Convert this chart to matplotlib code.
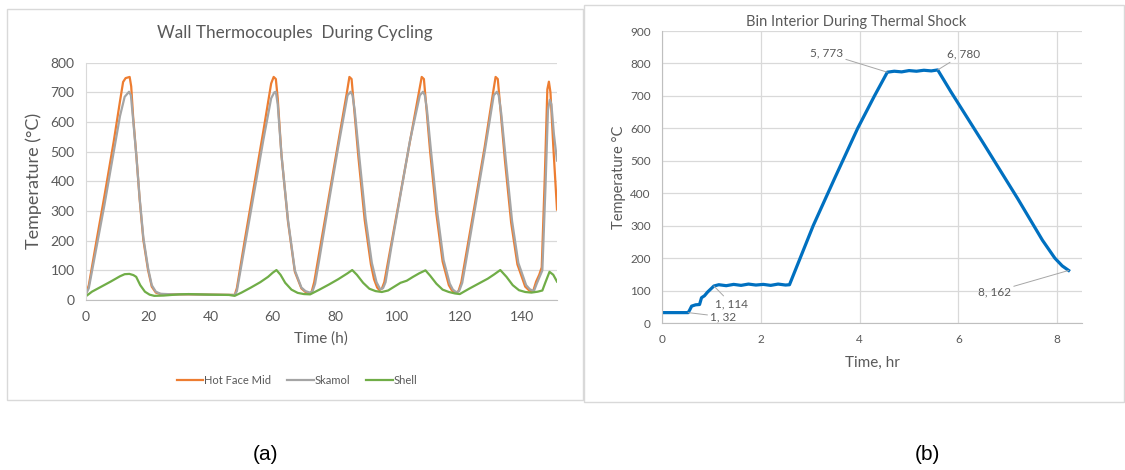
import matplotlib
matplotlib.use("Agg")
import matplotlib.pyplot as plt
from matplotlib.patches import Rectangle

plt.rcParams['font.family'] = ['Lato', 'DejaVu Sans']

# ---- Wall thermocouples during cycling ----
hot_t = [0, 1, 3.5, 6, 9, 11, 12, 12.8, 14.1, 14.6, 15.2, 16.3, 17.3, 18.5, 20.0, 21.2, 22.5, 24, 28, 33, 40, 47.8,
         48.5, 51, 54, 57, 59.5, 60.3, 61.0, 61.6, 62.8, 64.9, 67.1, 69.2, 70.5, 71.9,
         72.5, 73.3, 75, 78, 81, 83.8, 84.6, 85.3, 86, 87.5, 89.5, 91.5, 92.5, 93.5, 94.2,
         95, 95.8, 98, 101, 104, 107, 107.8, 108.5, 109.2, 110.5, 112.5, 114.5, 116.5, 117.5, 118.7,
         119.6, 120.5, 122, 125, 128, 130.7, 131.5, 132.2, 133, 134.5, 136.5, 138.5, 141, 142.3, 143.5,
         144.5, 145.5, 146.3, 147.3, 148.1, 148.6, 149.1, 150, 151.2]
hot_face_mid = [18, 50, 202, 350, 535, 670, 735, 748, 752, 720, 620, 480, 340, 202, 101, 45, 25, 20, 19, 19, 18, 17,
                40, 200, 385, 570, 730, 752, 745, 680, 489, 264, 95, 39, 27, 22,
                28, 60, 164, 347, 530, 700, 752, 745, 660, 480, 270, 120, 70, 42, 34,
                38, 60, 187, 360, 533, 706, 752, 745, 660, 500, 290, 130, 50, 32, 24,
                30, 60, 151, 333, 516, 700, 752, 745, 650, 470, 260, 120, 45, 32, 28,
                62, 85, 110, 420, 710, 736, 700, 520, 305]

skamol_t = [0, 1, 3.5, 6, 9, 11, 12.5, 13.9, 14.5, 15.2, 16.3, 17.3, 18.5, 20.0, 21.2, 22.5, 24, 28, 33, 40, 47.8,
            48.5, 51, 54, 57, 59.5, 60.5, 61.0, 61.6, 62.8, 64.9, 67.1, 69.2, 70.5, 71.9,
            72.8, 73.6, 75, 78, 81, 84.0, 85.0, 85.6, 86.3, 87.8, 89.8, 91.8, 93.3, 94.5,
            95.4, 96.2, 98, 101, 104, 107.2, 108.2, 108.8, 109.5, 110.8, 112.8, 114.8, 116.8, 117.8, 118.9,
            119.8, 120.8, 122, 125, 128, 130.9, 131.9, 132.5, 133.3, 134.8, 136.8, 138.8, 141.3, 142.5, 143.8,
            144.7, 145.7, 146.5, 147.5, 148.3, 148.9, 149.4, 150.2, 151.2]
skamol = [18, 40, 180, 320, 500, 620, 685, 702, 690, 610, 480, 345, 210, 108, 50, 28, 21, 19, 19, 18, 17,
          30, 180, 360, 540, 680, 700, 702, 660, 490, 270, 100, 42, 30, 25,
          30, 55, 140, 330, 515, 690, 702, 690, 640, 480, 275, 125, 60, 36,
          40, 60, 175, 355, 535, 690, 702, 690, 640, 500, 295, 135, 55, 35, 26,
          30, 58, 130, 315, 500, 690, 702, 690, 630, 470, 265, 125, 50, 36, 30,
          55, 80, 100, 380, 640, 675, 660, 560, 470]

shell_t = [0, 2, 5, 8, 11, 12.5, 14, 15.3, 16.2, 17.5, 19, 20.5, 22, 25, 30, 33, 40, 46, 47.8,
           50, 53, 56, 58.5, 60, 61.2, 62.5, 64, 66, 68, 70, 72,
           75, 78, 81, 84, 85.5, 87, 89, 91, 93, 95, 97, 99, 101, 103, 105, 107, 109,
           110.5, 112.5, 114.5, 116.5, 118.5, 120,
           123, 126, 129, 131, 133, 135, 137, 139, 141, 143, 145, 146.5, 147.5, 148.8, 150, 151.2]
shell = [12, 28, 45, 62, 80, 87, 88, 84, 78, 50, 28, 18, 14, 15, 19, 20, 18, 17, 14,
         25, 42, 60, 78, 92, 101, 85, 58, 35, 24, 20, 19,
         35, 52, 70, 90, 101, 85, 58, 38, 30, 27, 32, 45, 58, 65, 78, 90, 100,
         82, 55, 35, 27, 22, 20,
         38, 55, 72, 86, 101, 78, 50, 33, 27, 25, 28, 32, 60, 95, 85, 62]

wall_xticks = [0, 20, 40, 60, 80, 100, 120, 140]
wall_yticks = [0, 100, 200, 300, 400, 500, 600, 700, 800]

# ---- Bin interior during thermal shock ----
bin_t = [0, 0.3, 0.53, 0.56, 0.6, 0.68, 0.76, 0.8, 0.86, 0.92, 1.05, 1.15, 1.3, 1.45, 1.6, 1.75, 1.9,
         2.05, 2.2, 2.35, 2.5, 2.58, 3.06, 3.5, 3.96, 4.3, 4.56, 4.7, 4.85, 5.0, 5.15, 5.3, 5.45, 5.58,
         5.85, 6.5, 7.2, 7.7, 7.95, 8.1, 8.23]
bin_temp = [32, 32, 32, 40, 52, 56, 57, 78, 84, 95, 114, 118, 115, 119, 116, 120, 117,
            119, 116, 120, 117, 118, 300, 448, 600, 700, 773, 776, 774, 778, 776, 779, 777, 780,
            712, 555, 383, 255, 200, 176, 162]
bin_xticks = [0, 2, 4, 6, 8]
bin_yticks = [0, 100, 200, 300, 400, 500, 600, 700, 800, 900]

# labelled points: index into the bin series and label placement (data coords)
label_idx = [2, 10, 26, 33, 40]
label_xy = [(1.24, 19), (1.41, 58), (3.33, 831), (6.10, 829), (6.73, 96)]

W, H = 1125, 470
fig = plt.figure(figsize=(W / 100, H / 100), dpi=100)

TXT = '#595959'
GRID = '#D9D9D9'


def fx(px):
    return px / W


def fy(py):
    return 1 - py / H


# panel frames
fig.add_artist(Rectangle((fx(7), fy(400)), fx(583) - fx(7), fy(9) - fy(400),
                         transform=fig.transFigure, fill=False, ec=GRID, lw=1))
fig.add_artist(Rectangle((fx(584), fy(402)), fx(1124) - fx(584), fy(5) - fy(402),
                         transform=fig.transFigure, fill=False, ec=GRID, lw=1))

# left chart
ax1 = fig.add_axes([fx(85.7), fy(300), fx(557) - fx(85.7), fy(62.7) - fy(300)])
l1, = ax1.plot(hot_t, hot_face_mid, color='#ED7D31', lw=1.6, label='Hot Face Mid')
l2, = ax1.plot(skamol_t, skamol, color='#A5A5A5', lw=1.6, label='Skamol')
l3, = ax1.plot(shell_t, shell, color='#70AD47', lw=1.6, label='Shell')
ax1.set_xlim(0, 151.2)
ax1.set_ylim(0, 800)
ax1.set_xticks(wall_xticks)
ax1.set_yticks(wall_yticks)
ax1.grid(axis='y', color=GRID, lw=0.9)
ax1.set_axisbelow(True)
for s in ['top', 'right']:
    ax1.spines[s].set_visible(False)
ax1.spines['left'].set_color(GRID)
ax1.spines['bottom'].set_color('#BFBFBF')
ax1.tick_params(length=0, labelsize=10, colors=TXT, pad=8)
ax1.set_xlabel('Time (h)', fontsize=11, color=TXT, labelpad=6)
ax1.set_ylabel('Temperature (°C)', fontsize=13, color=TXT, labelpad=6)
fig.text(fx(295), fy(33), 'Wall Thermocouples  During Cycling', ha='center', va='center',
         fontsize=12.3, color=TXT)
fig.legend(handles=[l1, l2, l3], loc='center', bbox_to_anchor=(fx(297), fy(380)), ncol=3,
           frameon=False, fontsize=8, handlelength=2.4, handletextpad=0.1, columnspacing=1.4,
           labelcolor=TXT)

# right chart
ax2 = fig.add_axes([fx(662), fy(323), fx(1082) - fx(662), fy(31) - fy(323)])
ax2.plot(bin_t, bin_temp, color='#0070C0', lw=2.3, solid_joinstyle='round')
ax2.set_xlim(0, 8.5)
ax2.set_ylim(0, 900)
ax2.set_xticks(bin_xticks)
ax2.set_yticks(bin_yticks)
ax2.grid(color=GRID, lw=0.9)
ax2.set_axisbelow(True)
for s in ['top', 'right']:
    ax2.spines[s].set_visible(False)
ax2.spines['left'].set_color('#BFBFBF')
ax2.spines['bottom'].set_color('#BFBFBF')
ax2.tick_params(length=0, labelsize=8.5, colors=TXT, pad=8)
ax2.set_xlabel('Time, hr', fontsize=11, color=TXT, labelpad=8)
ax2.set_ylabel('Temperature °C', fontsize=10.5, color=TXT, labelpad=3)
fig.text(fx(856), fy(22), 'Bin Interior During Thermal Shock', ha='center', va='center',
         fontsize=10.5, color=TXT)

for i, (tx, ty) in zip(label_idx, label_xy):
    px, py = bin_t[i], bin_temp[i]
    ax2.annotate(f'{round(px)}, {py}', xy=(px, py), xytext=(tx, ty), ha='center', va='center',
                 fontsize=8.5, color=TXT,
                 arrowprops=dict(arrowstyle='-', color='#A6A6A6', lw=0.7, shrinkA=0, shrinkB=0))

fig.text(fx(266), fy(455), '(a)', ha='center', va='center', fontsize=15,
         family='Liberation Sans', color='black')
fig.text(fx(927), fy(455), '(b)', ha='center', va='center', fontsize=15,
         family='Liberation Sans', color='black')

fig.savefig('out.png', dpi=100)
